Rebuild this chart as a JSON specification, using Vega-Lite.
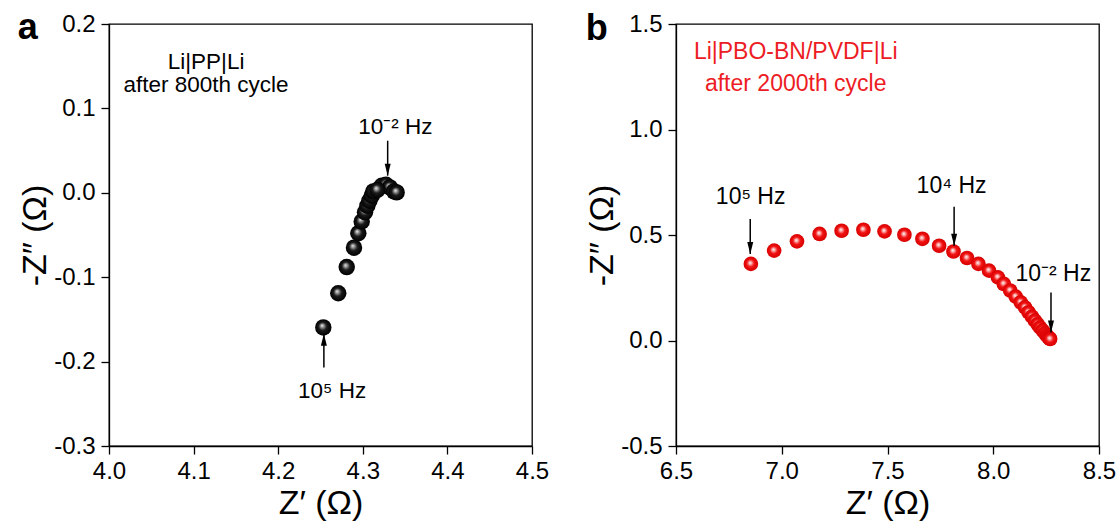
{
  "$schema": "https://vega.github.io/schema/vega-lite/v6.json",
  "background": "white",
  "padding": {"left": 17, "top": 9, "right": 0, "bottom": 0},
  "spacing": 34,
  "config": {
    "font": "Liberation Sans",
    "view": {"stroke": "#000", "strokeWidth": 1.3},
    "axis": {
      "grid": false, "domainColor": "#000", "domainWidth": 1.3,
      "tickColor": "#000", "tickWidth": 1.3, "tickSize": 8,
      "labelFont": "Liberation Sans", "labelFontSize": 24, "labelColor": "#000", "labelPadding": 6,
      "labelFlush": false, "labelOverlap": false,
      "titleFont": "Liberation Sans", "titleFontSize": 34, "titleFontWeight": "normal", "titleColor": "#000", "titlePadding": 1
    },
    "axisX": {"labelPadding": 5, "titlePadding": 3},
    "text": {"font": "Liberation Sans", "fontSize": 23}
  },
  "datasets": {
    "ptsA": [
      {"x": 4.2533, "y": -0.1595}, {"x": 4.271, "y": -0.119}, {"x": 4.281, "y": -0.088},
      {"x": 4.2896, "y": -0.065}, {"x": 4.2947, "y": -0.048}, {"x": 4.2987, "y": -0.034},
      {"x": 4.3026, "y": -0.023}, {"x": 4.3054, "y": -0.0153}, {"x": 4.3078, "y": -0.0094},
      {"x": 4.3106, "y": -0.0034}, {"x": 4.3125, "y": 0.0017}, {"x": 4.3224, "y": 0.0084},
      {"x": 4.3274, "y": 0.0096}, {"x": 4.332, "y": 0.0064}, {"x": 4.3369, "y": 0.0017},
      {"x": 4.340, "y": 0.0005}, {"x": 4.3172, "y": 0.0033}
    ],
    "ptsB": [
      {"x": 6.854, "y": 0.363}, {"x": 6.964, "y": 0.426}, {"x": 7.072, "y": 0.470},
      {"x": 7.179, "y": 0.505}, {"x": 7.283, "y": 0.520}, {"x": 7.386, "y": 0.525},
      {"x": 7.486, "y": 0.517}, {"x": 7.580, "y": 0.501}, {"x": 7.665, "y": 0.482},
      {"x": 7.744, "y": 0.449}, {"x": 7.812, "y": 0.422}, {"x": 7.876, "y": 0.391},
      {"x": 7.930, "y": 0.363}, {"x": 7.980, "y": 0.331}, {"x": 8.022, "y": 0.299},
      {"x": 8.050, "y": 0.268}, {"x": 8.080, "y": 0.237}, {"x": 8.106, "y": 0.208},
      {"x": 8.130, "y": 0.181}, {"x": 8.150, "y": 0.157}, {"x": 8.167, "y": 0.134},
      {"x": 8.183, "y": 0.113}, {"x": 8.197, "y": 0.094}, {"x": 8.210, "y": 0.077},
      {"x": 8.222, "y": 0.061}, {"x": 8.234, "y": 0.047}, {"x": 8.245, "y": 0.034},
      {"x": 8.254, "y": 0.023}, {"x": 8.261, "y": 0.015}, {"x": 8.266, "y": 0.010},
      {"x": 8.269, "y": 0.007}
    ],
    "downA": [{"x": 4.3294, "y": 0.0203, "y2": 0.0617}],
    "upA": [{"x": 4.254, "y": -0.167, "y2": -0.2069}],
    "downB": [
      {"x": 6.851, "y": 0.410, "y2": 0.576},
      {"x": 7.815, "y": 0.449, "y2": 0.634},
      {"x": 8.273, "y": 0.038, "y2": 0.228}
    ],
    "letterA": [{"x": 3.9039, "y": 0.1822, "t": "a"}],
    "letterB": [{"x": 6.125, "y": 1.424, "t": "b"}],
    "textA": [
      {"x": 4.1147, "y": 0.1545, "t": "Li|PP|Li"},
      {"x": 4.1147, "y": 0.1283, "t": "after 800th cycle"},
      {"x": 4.3385, "y": 0.0775, "t": "10⁻² Hz"},
      {"x": 4.2637, "y": -0.2345, "t": "10⁵ Hz"}
    ],
    "textB": [
      {"x": 6.853, "y": 0.678, "t": "10⁵ Hz"},
      {"x": 7.803, "y": 0.734, "t": "10⁴ Hz"},
      {"x": 8.284, "y": 0.315, "t": "10⁻² Hz"}
    ],
    "redB": [
      {"x": 7.066, "y": 1.365, "t": "Li|PBO-BN/PVDF|Li"},
      {"x": 7.066, "y": 1.214, "t": "after 2000th cycle"}
    ]
  },
  "hconcat": [
    {
      "width": 423, "height": 422,
      "encoding": {
        "x": {"field": "x", "type": "quantitative", "scale": {"domain": [4.0, 4.5], "nice": false, "zero": false},
          "axis": {"values": [4.0, 4.1, 4.2, 4.3, 4.4, 4.5], "format": ".1f", "title": "Z′ (Ω)"}},
        "y": {"field": "y", "type": "quantitative", "scale": {"domain": [-0.3, 0.2], "nice": false, "zero": false},
          "axis": {"values": [-0.3, -0.2, -0.1, 0.0, 0.1, 0.2], "labelExpr": "replace(format(datum.value, '.1f'), '−', '-')", "title": "-Z″ (Ω)"}}
      },
      "layer": [
        {
          "data": {"name": "ptsA"},
          "mark": {"type": "point", "filled": true, "size": 270, "opacity": 1, "strokeWidth": 0,
            "fill": {"gradient": "radial", "x1": 0.42, "y1": 0.38, "r1": 0, "x2": 0.5, "y2": 0.5, "r2": 0.5,
              "stops": [{"offset": 0, "color": "#f4f4f4"}, {"offset": 0.18, "color": "#a0a0a0"}, {"offset": 0.5, "color": "#1a1a1a"}, {"offset": 1, "color": "#000000"}]}}
        },
        {
          "data": {"name": "downA"},
          "mark": {"type": "rule", "color": "#000", "strokeWidth": 1.5},
          "encoding": {"y2": {"field": "y2"}}
        },
        {
          "data": {"name": "downA"},
          "mark": {"type": "point", "shape": "M-0.5,-2L0.5,-2L0,0Z", "filled": true, "size": 144, "color": "#000", "opacity": 1, "strokeWidth": 0}
        },
        {
          "data": {"name": "upA"},
          "mark": {"type": "rule", "color": "#000", "strokeWidth": 1.5},
          "encoding": {"y2": {"field": "y2"}}
        },
        {
          "data": {"name": "upA"},
          "mark": {"type": "point", "shape": "M-0.5,2L0.5,2L0,0Z", "filled": true, "size": 144, "color": "#000", "opacity": 1, "strokeWidth": 0}
        },
        {
          "data": {"name": "textA"},
          "mark": {"type": "text", "color": "#000", "align": "center", "baseline": "middle", "fontSize": 22.5},
          "encoding": {"text": {"field": "t"}}
        },
        {
          "data": {"name": "letterA"},
          "mark": {"type": "text", "color": "#000", "align": "center", "baseline": "alphabetic", "fontSize": 36, "fontWeight": "bold"},
          "encoding": {"text": {"field": "t"}}
        }
      ]
    },
    {
      "width": 423, "height": 422,
      "encoding": {
        "x": {"field": "x", "type": "quantitative", "scale": {"domain": [6.5, 8.5], "nice": false, "zero": false},
          "axis": {"values": [6.5, 7.0, 7.5, 8.0, 8.5], "format": ".1f", "title": "Z′ (Ω)"}},
        "y": {"field": "y", "type": "quantitative", "scale": {"domain": [-0.5, 1.5], "nice": false, "zero": false},
          "axis": {"values": [-0.5, 0.0, 0.5, 1.0, 1.5], "labelExpr": "replace(format(datum.value, '.1f'), '−', '-')", "title": "-Z″ (Ω)"}}
      },
      "layer": [
        {
          "data": {"name": "ptsB"},
          "mark": {"type": "point", "filled": true, "size": 215, "opacity": 1, "strokeWidth": 0,
            "fill": {"gradient": "radial", "x1": 0.45, "y1": 0.42, "r1": 0, "x2": 0.5, "y2": 0.5, "r2": 0.5,
              "stops": [{"offset": 0, "color": "#ffffff"}, {"offset": 0.18, "color": "#fbb4b4"}, {"offset": 0.5, "color": "#f21212"}, {"offset": 1, "color": "#d60000"}]}}
        },
        {
          "data": {"name": "downB"},
          "mark": {"type": "rule", "color": "#000", "strokeWidth": 1.5},
          "encoding": {"y2": {"field": "y2"}}
        },
        {
          "data": {"name": "downB"},
          "mark": {"type": "point", "shape": "M-0.5,-2L0.5,-2L0,0Z", "filled": true, "size": 144, "color": "#000", "opacity": 1, "strokeWidth": 0}
        },
        {
          "data": {"name": "textB"},
          "mark": {"type": "text", "color": "#000", "align": "center", "baseline": "middle", "fontSize": 23},
          "encoding": {"text": {"field": "t"}}
        },
        {
          "data": {"name": "redB"},
          "mark": {"type": "text", "color": "#ed1c24", "align": "center", "baseline": "middle", "fontSize": 23},
          "encoding": {"text": {"field": "t"}}
        },
        {
          "data": {"name": "letterB"},
          "mark": {"type": "text", "color": "#000", "align": "center", "baseline": "alphabetic", "fontSize": 36, "fontWeight": "bold"},
          "encoding": {"text": {"field": "t"}}
        }
      ]
    }
  ]
}
